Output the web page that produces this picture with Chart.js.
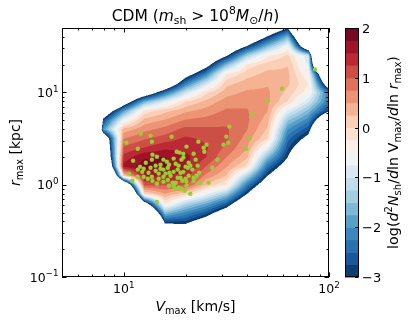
<!DOCTYPE html>
<html>
<head>
<meta charset="utf-8">
<script src="https://cdn.jsdelivr.net/npm/chart.js@4.4.1/dist/chart.umd.min.js"></script>
<style>
html, body { margin: 0; padding: 0; background: #fff; }
#chart { display: block; }
</style>
</head>
<body>
<canvas id="chart" width="409" height="323"></canvas>
<script>
// density grid, log10(Vmax) columns x log10(rmax) rows (top row first)
const grid_log_vmax = [0.8, 0.9, 1.0, 1.1, 1.2, 1.3, 1.4, 1.5, 1.6, 1.7, 1.8, 1.9, 2.0];
const grid_log_rmax = [1.8, 1.7, 1.6, 1.5, 1.4, 1.3, 1.2, 1.1, 1.0, 0.9, 0.8, 0.7, 0.6, 0.5, 0.4, 0.3, 0.2, 0.1, 0.0, -0.1, -0.2, -0.3, -0.4, -0.5, -0.6];
const density = [
    [-15, -15, -14, -12, -11, -10, -8, -7, -6, -5.3, -4.2, -9, -15],
    [-15, -15, -13, -11, -10, -9, -7, -6, -5.2, -4.1, -3.05, -8, -15],
    [-15, -14, -12, -10, -9, -8, -6, -5.2, -4.2, -2.9, -1.6, -6, -15],
    [-15, -13, -11, -9, -8, -7, -5.2, -4.2, -2.95, -1.6, -0.5, -4.5, -15],
    [-15, -12, -10, -8, -7.5, -6, -4.3, -3.1, -1.35, -0.3, 0.05, -1.0, -15],
    [-15, -11, -9, -7, -6.7, -4.8, -3.4, -1.6, -0.17, 0.13, 0.24, -0.8, -11],
    [-15, -10, -8, -6.8, -5.5, -3.5, -2.2, -0.25, 0.14, 0.33, 0.3, -0.5, -5.5],
    [-15, -9, -6.5, -5.5, -4.3, -2.3, -1.0, 0.16, 0.37, 0.47, 0.3, -0.25, -4],
    [-15, -8, -5, -3.9, -2.4, -1.0, -0.08, 0.4, 0.55, 0.55, 0.17, -0.4, -2.3],
    [-15, -6.5, -3.7, -1.7, -0.78, 0.0, 0.33, 0.62, 0.7, 0.57, -0.02, -0.95, -2.3],
    [-15, -4.0, -1.9, -0.15, 0.17, 0.45, 0.6, 0.8, 0.77, 0.51, -0.78, -1.6, -2.9],
    [-15, -2.8, -0.6, 0.34, 0.52, 0.77, 0.84, 0.94, 0.8, 0.39, -1.46, -2.15, -4.5],
    [-15, -2.0, 0.35, 0.67, 0.84, 1.09, 1.05, 1.03, 0.77, 0.21, -2.0, -2.7, -6],
    [-15, -4.5, 0.75, 0.97, 1.12, 1.3, 1.2, 1.05, 0.65, 0.02, -2.4, -3.25, -8],
    [-15, -5.0, 1.05, 1.26, 1.44, 1.44, 1.29, 0.94, 0.52, -0.7, -2.72, -3.8, -10],
    [-15, -5.5, 1.35, 1.72, 1.76, 1.58, 1.26, 0.76, 0.32, -1.55, -3.01, -4.5, -12],
    [-15, -6.5, 1.6, 1.86, 1.8, 1.62, 1.01, 0.54, -0.05, -2.35, -3.5, -5.2, -13],
    [-15, -9, 0.2, 1.55, 1.53, 1.41, 0.7, 0.26, -1.2, -2.98, -4.0, -6, -14],
    [-15, -11, -5, 1.1, 1.05, 1.1, 0.25, -0.25, -2.2, -3.7, -4.6, -7, -15],
    [-15, -13, -8, -0.05, 0.49, 0.07, -0.65, -1.4, -3.0, -4.5, -5.3, -8, -15],
    [-15, -15, -11, -3.5, -0.18, -1.14, -1.7, -2.5, -4.0, -5.5, -6, -9, -15],
    [-15, -15, -13, -6, -1.5, -2.05, -2.6, -3.5, -5, -6.5, -7, -10, -15],
    [-15, -15, -15, -9, -2.75, -2.8, -3.45, -4.5, -6, -7.5, -8, -11, -15],
    [-15, -15, -15, -12, -3.9, -3.6, -4.3, -5.5, -7, -8.5, -9, -12, -15],
    [-15, -15, -15, -15, -5, -4.5, -5.2, -6.5, -8, -9.5, -10, -13, -15],
];
const levels = [-3, -2.75, -2.5, -2.25, -2, -1.75, -1.5, -1.25, -1, -0.75, -0.5, -0.25,
    0, 0.25, 0.5, 0.75, 1, 1.25, 1.5, 1.75, 2];

// subhaloes (km/s, kpc)
const vmax_sub = [85.5, 59.1, 50.0, 42.3, 32.7, 40.9, 39.5, 31.6, 32.3, 30.6, 28.6, 27.0, 25.9, 23.6, 21.1, 14.5,
    10.3, 12.1, 13.5, 17.1, 13.7, 11.7, 23.1, 25.3, 24.5, 24.7, 20.2, 18.1, 14.5, 13.8, 11.1, 10.6, 11.0, 11.7,
    21.9, 22.4, 23.3, 22.9, 11.7, 12.5, 13.2, 14.3, 15.1, 15.6, 16.4, 16.7, 17.5, 18.3, 18.9, 19.5, 20.5, 21.6,
    12.5, 13.7, 14.8, 15.6, 16.4, 17.3, 17.9, 18.3, 19.3, 20.0, 21.9, 17.5, 20.2, 18.5, 19.1, 13.7, 15.6, 16.2,
    17.5, 19.1, 20.7, 19.5, 18.7, 19.5, 17.9, 16.6, 15.1, 20.0, 18.5, 21.1, 16.9, 16.0, 14.8, 13.1, 12.0, 12.3,
    14.3, 13.5, 12.8, 17.7, 19.8, 16.6, 22.6, 20.7, 14.5, 13.8, 15.6, 18.9, 21.9, 20.2];
const rmax_sub = [17.8, 11.0, 8.19, 5.77, 4.27, 3.16, 2.46, 3.32, 2.86, 2.72, 1.87, 1.53, 1.05, 1.05, 0.80, 0.65,
    2.86, 3.58, 3.41, 3.32, 2.93, 2.46, 2.93, 2.72, 2.52, 2.28, 2.59, 2.28, 2.01, 2.12, 1.82, 1.32, 1.105, 1.22,
    2.17, 1.87, 1.35, 1.61, 1.46, 1.49, 1.35, 1.42, 1.49, 1.46, 1.53, 1.35, 1.38, 1.46, 1.35, 1.38, 1.53, 1.46,
    1.22, 1.22, 1.16, 1.08, 1.13, 1.05, 1.05, 1.19, 1.105, 1.16, 1.19, 0.975, 0.975, 0.928, 0.905, 1.87, 1.87, 1.78,
    1.92, 1.87, 1.73, 1.97, 2.23, 2.17, 1.69, 1.65, 1.65, 1.57, 1.61, 1.61, 1.25, 1.32, 1.32, 1.16, 1.57, 1.38,
    1.61, 1.53, 1.73, 0.905, 0.86, 0.975, 1.25, 1.25, 1.025, 1.105, 1.22, 1.19, 1.105, 1.08];

const x_major = [10, 100];
const x_minor = [5, 6, 7, 8, 9, 20, 30, 40, 50, 60, 70, 80, 90];
const y_major = [0.1, 1, 10];
const y_minor = [0.2, 0.3, 0.4, 0.5, 0.6, 0.7, 0.8, 0.9, 2, 3, 4, 5, 6, 7, 8, 9, 20, 30, 40, 50];
const cbar_ticks = [-3, -2, -1, 0, 1, 2];

const RDBU = [
    [103, 0, 31], [178, 24, 43], [214, 96, 77], [244, 165, 130], [253, 219, 199], [247, 247, 247],
    [209, 229, 240], [146, 197, 222], [67, 147, 195], [33, 102, 172], [5, 48, 97],
];

function rdbu_r(t) {
    const cols = RDBU.slice().reverse();
    const f = Math.min(Math.max(t, 0), 1) * (cols.length - 1);
    const i = Math.min(Math.floor(f), cols.length - 2);
    const k = f - i;
    return cols[i].map((c, j) => Math.round(c + (cols[i + 1][j] - c) * k));
}

const band_colors = levels.slice(0, -1).map((lv, i) => rdbu_r((i + 0.5) / (levels.length - 1)));

function draw_math(ctx, parts, x, y, size, align) {
    let total = 0;
    const items = parts.map(p => {
        const fs = p.s ? size * 0.7 : size;
        const font = `${p.i ? "italic " : ""}${fs}px "DejaVu Sans"`;
        ctx.font = font;
        const width = ctx.measureText(p.t).width;
        total += width;
        const dy = p.s == "sup" ? -size * 0.42 : (p.s == "sub" ? size * 0.2 : 0);
        return {t: p.t, font, width, dy};
    });
    let cx = x;
    if (align == "center") cx = x - total / 2;
    if (align == "right") cx = x - total;
    ctx.textAlign = "left";
    ctx.textBaseline = "alphabetic";
    for (const it of items) {
        ctx.font = it.font;
        ctx.fillText(it.t, cx, y + it.dy);
        cx += it.width;
    }
}

function power_label(v) {
    const e = Math.round(Math.log10(v));
    return [{t: "10"}, {t: e < 0 ? "\u2212" + (-e) : String(e), s: "sup"}];
}

const contour_plugin = {
    id: "contour",
    beforeDatasetsDraw(chart) {
        const {ctx, chartArea: a, scales} = chart;
        const ss = 2;
        const w = Math.round((a.right - a.left) * ss);
        const h = Math.round((a.bottom - a.top) * ss);
        const off = document.createElement("canvas");
        off.width = w;
        off.height = h;
        const octx = off.getContext("2d");
        const img = octx.createImageData(w, h);

        const du = grid_log_vmax[1] - grid_log_vmax[0];
        const dw = grid_log_rmax[0] - grid_log_rmax[1];
        const nu = grid_log_vmax.length, nw = grid_log_rmax.length;
        const step = levels[1] - levels[0];

        const fu = [];
        for (let i = 0; i < w; i++) {
            const u = Math.log10(scales.x.getValueForPixel(a.left + (i + 0.5) / ss));
            fu.push((u - grid_log_vmax[0]) / du);
        }
        for (let j = 0; j < h; j++) {
            const lw = Math.log10(scales.y.getValueForPixel(a.top + (j + 0.5) / ss));
            const fw = (grid_log_rmax[0] - lw) / dw;
            if (fw < 0 || fw > nw - 1) continue;
            const r0 = Math.min(Math.floor(fw), nw - 2);
            const ty = fw - r0;
            for (let i = 0; i < w; i++) {
                const f = fu[i];
                if (f < 0 || f > nu - 1) continue;
                const c0 = Math.min(Math.floor(f), nu - 2);
                const tx = f - c0;
                const top = density[r0][c0] * (1 - tx) + density[r0][c0 + 1] * tx;
                const bot = density[r0 + 1][c0] * (1 - tx) + density[r0 + 1][c0 + 1] * tx;
                const v = top * (1 - ty) + bot * ty;
                if (v < levels[0] || v >= levels[levels.length - 1]) continue;
                const b = Math.min(Math.floor((v - levels[0]) / step), band_colors.length - 1);
                const col = band_colors[b];
                const k = (j * w + i) * 4;
                img.data[k] = col[0];
                img.data[k + 1] = col[1];
                img.data[k + 2] = col[2];
                img.data[k + 3] = 255;
            }
        }
        octx.putImageData(img, 0, 0);
        ctx.save();
        ctx.imageSmoothingEnabled = true;
        ctx.drawImage(off, a.left, a.top, a.right - a.left, a.bottom - a.top);
        ctx.restore();
    },
};

const frame_plugin = {
    id: "frame",
    afterDraw(chart) {
        const {ctx, chartArea: a, scales} = chart;
        ctx.save();
        ctx.strokeStyle = "#000";
        ctx.fillStyle = "#000";
        ctx.lineWidth = 1;

        ctx.strokeRect(Math.round(a.left) + 0.5, Math.round(a.top) + 0.5,
            Math.round(a.right - a.left) - 1, Math.round(a.bottom - a.top) - 1);

        ctx.beginPath();
        for (const [vals, len] of [[x_major, 4.5], [x_minor, 2.5]]) {
            for (const v of vals) {
                const px = Math.round(scales.x.getPixelForValue(v)) + 0.5;
                ctx.moveTo(px, a.bottom);
                ctx.lineTo(px, a.bottom - len);
                ctx.moveTo(px, a.top);
                ctx.lineTo(px, a.top + len);
            }
        }
        for (const [vals, len] of [[y_major, 4.5], [y_minor, 2.5]]) {
            for (const v of vals) {
                const py = Math.round(scales.y.getPixelForValue(v)) + 0.5;
                ctx.moveTo(a.left, py);
                ctx.lineTo(a.left + len, py);
                ctx.moveTo(a.right, py);
                ctx.lineTo(a.right - len, py);
            }
        }
        ctx.stroke();

        for (const v of x_major) {
            draw_math(ctx, power_label(v), scales.x.getPixelForValue(v), a.bottom + 16, 12.5, "center");
        }
        for (const v of y_major) {
            draw_math(ctx, power_label(v), a.left - 3.5, scales.y.getPixelForValue(v) + 4.5, 12.5, "right");
        }

        // colorbar
        const cb = scales.cb;
        const cb_left = a.right + 16, cb_right = a.right + 29;
        for (let i = 0; i < band_colors.length; i++) {
            const y0 = cb.getPixelForValue(levels[i]);
            const y1 = cb.getPixelForValue(levels[i + 1]);
            ctx.fillStyle = `rgb(${band_colors[i].join(",")})`;
            ctx.fillRect(cb_left, y1, cb_right - cb_left, y0 - y1 + 0.5);
        }
        ctx.strokeStyle = "#000";
        ctx.strokeRect(cb_left + 0.5, Math.round(cb.top) + 0.5, cb_right - cb_left, Math.round(cb.bottom - cb.top) - 1);
        ctx.fillStyle = "#000";
        ctx.beginPath();
        for (const v of cbar_ticks) {
            const py = Math.round(cb.getPixelForValue(v)) + 0.5;
            ctx.moveTo(cb_right + 0.5, py);
            ctx.lineTo(cb_right - 3, py);
            const txt = v < 0 ? "\u2212" + (-v) : String(v);
            draw_math(ctx, [{t: txt}], cb_right + 4, py + 4.5, 13, "left");
        }
        ctx.stroke();

        // labels
        const mid_x = (a.left + a.right) / 2;
        const mid_y = (a.top + a.bottom) / 2;
        draw_math(ctx, [
            {t: "CDM ("}, {t: "m", i: 1}, {t: "sh", s: "sub"}, {t: " > 10"}, {t: "8", s: "sup"},
            {t: "M", i: 1}, {t: "\u2299", s: "sub"}, {t: "/"}, {t: "h", i: 1}, {t: ")"},
        ], mid_x, 21, 15.5, "center");
        draw_math(ctx, [{t: "V", i: 1}, {t: "max", s: "sub"}, {t: " [km/s]"}], mid_x, 311, 14, "center");

        ctx.save();
        ctx.translate(20, mid_y);
        ctx.rotate(-Math.PI / 2);
        draw_math(ctx, [{t: "r", i: 1}, {t: "max", s: "sub"}, {t: " [kpc]"}], 0, 0, 14, "center");
        ctx.restore();

        ctx.save();
        ctx.translate(398, mid_y);
        ctx.rotate(-Math.PI / 2);
        draw_math(ctx, [
            {t: "log("}, {t: "d", i: 1}, {t: "2", s: "sup"}, {t: "N", i: 1}, {t: "sh", s: "sub"},
            {t: "/"}, {t: "d", i: 1}, {t: "ln V"}, {t: "max", s: "sub"}, {t: "/"}, {t: "d", i: 1},
            {t: "ln "}, {t: "r", i: 1}, {t: "max", s: "sub"}, {t: ")"},
        ], 0, 0, 14.3, "center");
        ctx.restore();

        ctx.restore();
    },
};

const chart_canvas = document.getElementById("chart");

const chart = new Chart(chart_canvas, {
    type: "scatter",
    data: {
        datasets: [{
            data: vmax_sub.map((v, i) => ({x: v, y: rmax_sub[i]})),
            backgroundColor: "#9acd32",
            pointRadius: 2.2,
            pointBorderWidth: 0,
            pointHoverRadius: 2.2,
        }],
    },
    options: {
        responsive: false,
        animation: false,
        events: [],
        layout: {padding: {top: 28, right: 80, left: 0, bottom: 0}},
        plugins: {
            legend: {display: false},
            tooltip: {enabled: false},
        },
        scales: {
            x: {
                type: "logarithmic",
                min: 5,
                max: 100,
                grid: {display: false},
                border: {display: false},
                ticks: {display: false},
                afterFit: (scale) => { scale.height = 46; },
            },
            y: {
                type: "logarithmic",
                min: 0.1,
                max: 50,
                grid: {display: false},
                border: {display: false},
                ticks: {display: false},
                afterFit: (scale) => { scale.width = 62; },
            },
            cb: {
                type: "linear",
                axis: "y",
                position: "right",
                min: -3,
                max: 2,
                display: false,
            },
        },
    },
    plugins: [contour_plugin, frame_plugin],
});
</script>
</body>
</html>
